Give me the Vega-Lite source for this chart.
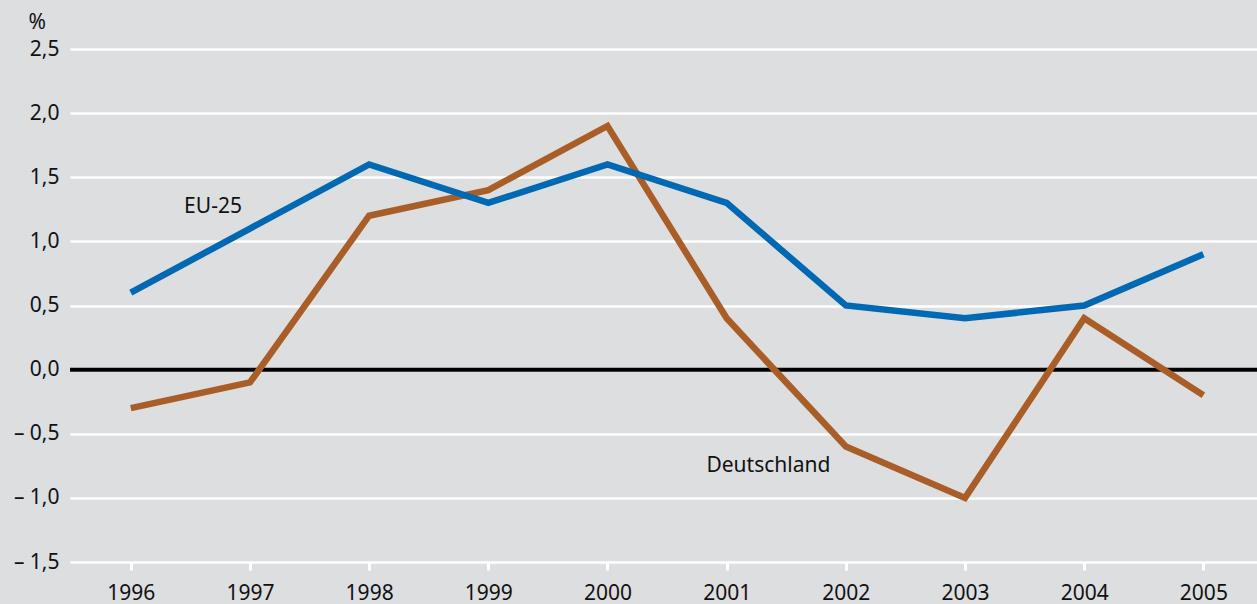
{
  "$schema": "https://vega.github.io/schema/vega-lite/v6.json",
  "width": 1187,
  "height": 513,
  "autosize": {"type": "none"},
  "padding": {"left": 70, "top": 49, "right": 0, "bottom": 42},
  "background": "#dddee0",
  "config": {
    "view": {"stroke": null},
    "font": "Noto Sans",
    "axis": {"labelFont": "Noto Sans", "labelFontSize": 21, "labelColor": "#111111", "titleFont": "Noto Sans"}
  },
  "datasets": {
    "series": [
      {"year": 1996, "value": -0.3, "series": "Deutschland"},
      {"year": 1997, "value": -0.1, "series": "Deutschland"},
      {"year": 1998, "value": 1.2, "series": "Deutschland"},
      {"year": 1999, "value": 1.4, "series": "Deutschland"},
      {"year": 2000, "value": 1.9, "series": "Deutschland"},
      {"year": 2001, "value": 0.4, "series": "Deutschland"},
      {"year": 2002, "value": -0.6, "series": "Deutschland"},
      {"year": 2003, "value": -1.0, "series": "Deutschland"},
      {"year": 2004, "value": 0.4, "series": "Deutschland"},
      {"year": 2005, "value": -0.2, "series": "Deutschland"},
      {"year": 1996, "value": 0.6, "series": "EU-25"},
      {"year": 1997, "value": 1.1, "series": "EU-25"},
      {"year": 1998, "value": 1.6, "series": "EU-25"},
      {"year": 1999, "value": 1.3, "series": "EU-25"},
      {"year": 2000, "value": 1.6, "series": "EU-25"},
      {"year": 2001, "value": 1.3, "series": "EU-25"},
      {"year": 2002, "value": 0.5, "series": "EU-25"},
      {"year": 2003, "value": 0.4, "series": "EU-25"},
      {"year": 2004, "value": 0.5, "series": "EU-25"},
      {"year": 2005, "value": 0.9, "series": "EU-25"}
    ],
    "labels": [
      {"year": 1996.69, "value": 1.27, "label": "EU-25"},
      {"year": 2001.35, "value": -0.75, "label": "Deutschland"}
    ],
    "zero": [{"value": 0}]
  },
  "layer": [
    {
      "data": {"name": "zero"},
      "mark": {"type": "rule", "color": "#000000", "strokeWidth": 4},
      "encoding": {
        "y": {
          "field": "value",
          "type": "quantitative",
          "scale": {"domain": [-1.5, 2.5], "nice": false, "zero": false},
          "axis": {
            "values": [-1.5, -1.0, -0.5, 0, 0.5, 1.0, 1.5, 2.0, 2.5],
            "domain": false,
            "ticks": false,
            "grid": true,
            "gridColor": "#ffffff",
            "gridWidth": 2.5,
            "gridOpacity": 1,
            "labelPadding": 11,
            "labelExpr": "datum.value < 0 ? '– ' + replace(format(-datum.value, '.1f'), '.', ',') : replace(format(datum.value, '.1f'), '.', ',')",
            "title": "%",
            "titleAngle": 0,
            "titleFontSize": 21,
            "titleFontWeight": "normal",
            "titleColor": "#111111",
            "titleAlign": "left",
            "titleBaseline": "alphabetic",
            "titleX": -42,
            "titleY": -21
          }
        }
      }
    },
    {
      "data": {"name": "series"},
      "mark": {"type": "line", "strokeWidth": 6.5, "strokeJoin": "miter", "strokeCap": "butt"},
      "encoding": {
        "x": {
          "field": "year",
          "type": "quantitative",
          "scale": {"domain": [1995.49, 2005.45], "nice": false, "zero": false},
          "axis": {
            "values": [1996, 1997, 1998, 1999, 2000, 2001, 2002, 2003, 2004, 2005],
            "format": "d",
            "domain": false,
            "grid": false,
            "tickColor": "#ffffff",
            "tickWidth": 3,
            "tickSize": 8,
            "labelPadding": 12,
            "title": null
          }
        },
        "y": {"field": "value", "type": "quantitative"},
        "color": {
          "field": "series",
          "type": "nominal",
          "scale": {"domain": ["Deutschland", "EU-25"], "range": ["#a95e28", "#0069b4"]},
          "legend": null
        },
        "order": {"field": "year"}
      }
    },
    {
      "data": {"name": "labels"},
      "mark": {"type": "text", "fontSize": 21, "color": "#111111", "align": "center", "baseline": "middle", "font": "Noto Sans"},
      "encoding": {
        "x": {"field": "year", "type": "quantitative"},
        "y": {"field": "value", "type": "quantitative"},
        "text": {"field": "label"}
      }
    }
  ]
}
